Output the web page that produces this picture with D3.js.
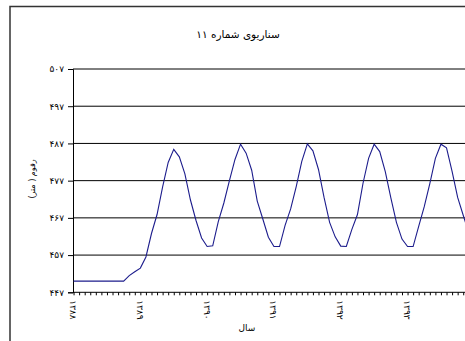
<!DOCTYPE html>
<html><head><meta charset="utf-8">
<script src="https://cdn.jsdelivr.net/npm/d3@7"></script>
<style>body{margin:0;background:#fff}svg{display:block}</style>
</head><body><svg id="c" width="465" height="341"></svg>
<script>
const chartTitle = "سناریوی شماره ۱۱";
const yTitle = "رقوم ( متر)";
const xTitle = "سال";
const yearLabels = ["۱۳۸۸","۱۳۸۹","۱۳۹۰","۱۳۹۱","۱۳۹۲","۱۳۹۳"];
const yTickValues = [447,457,467,477,487,497,507];
const yTickLabels = ["۴۴۷","۴۵۷","۴۶۷","۴۷۷","۴۸۷","۴۹۷","۵۰۷"];
const months = d3.range(0, 72);
const levels = [450,450,450,450,450,450,450,450,450,450,
  451.5,452.5,453.5,456.5,462.8,467.9,475.3,481.9,485.4,483.4,478.8,471.8,466.3,461.6,
  459.3,459.5,466,471,477,482.7,486.8,484.4,479.8,471.5,466.7,461.8,
  459.3,459.3,465,469.4,475.4,482.2,486.9,485,480,472.5,465.8,461.9,
  459.4,459.3,463.9,467.9,476.3,483,486.8,484.8,479.4,472.4,465.8,461.3,
  459.3,459.3,464.7,470,476.2,483,486.8,485.8,479.5,472.5,467.7,463];

const svg = d3.select("#c");
const font = "'DejaVu Sans', sans-serif";

svg.append("rect").attr("x",10).attr("y",6.5).attr("width",520).attr("height",400)
  .attr("fill","none").attr("stroke","#333").attr("stroke-width",1.5);

const x = d3.scaleLinear().domain([-0.1, 70.5]).range([73, 466]);
const y = d3.scaleLinear().domain([447, 507]).range([292.3, 69]);

// gridlines
svg.append("g").selectAll("line").data(yTickValues.slice(1)).join("line")
  .attr("x1",73).attr("x2",470)
  .attr("y1",d=>y(d)).attr("y2",d=>y(d))
  .attr("stroke","#000").attr("stroke-width",1);

// y axis
const ya = svg.append("g").attr("transform","translate(73,0)")
  .call(d3.axisLeft(y).tickValues(yTickValues).tickFormat((d,i)=>yTickLabels[i]).tickSize(5).tickPadding(4));
ya.select(".domain").attr("stroke","#000");
ya.selectAll("text").attr("font-family",font).attr("font-size",9).attr("fill","#000");

// x axis
const xa = svg.append("g").attr("transform",`translate(0,${y(447)})`)
  .call(d3.axisBottom(x).tickValues(months.slice(0,71)).tickSize(3)
    .tickFormat(d => d % 12 === 0 ? yearLabels[d/12] : ""));
xa.select(".domain").attr("stroke","#000").attr("d","M73,0H470");
xa.selectAll("text").attr("font-family",font).attr("font-size",9).attr("fill","#000")
  .attr("letter-spacing",2.2)
  .attr("direction","ltr").attr("unicode-bidi","bidi-override")
  .attr("transform","rotate(90)").attr("text-anchor","start")
  .attr("x",8).attr("y",0).attr("dy","0.45em");

// line
svg.append("path").datum(levels)
  .attr("fill","none").attr("stroke","#1c1c8c").attr("stroke-width",1.1)
  .attr("d", d3.line().x((d,i)=>x(months[i])).y(d=>y(d)));

// titles
svg.append("text").attr("x",238).attr("y",38).attr("text-anchor","middle")
  .attr("direction","rtl")
  .attr("font-family",font).attr("font-size",10.5).text(chartTitle);
svg.append("text").attr("transform","translate(35,179) rotate(-90)").attr("text-anchor","middle")
  .attr("direction","rtl")
  .attr("font-family",font).attr("font-size",8).text(yTitle);
svg.append("text").attr("x",247).attr("y",331).attr("text-anchor","middle")
  .attr("direction","rtl")
  .attr("font-family",font).attr("font-size",9).text(xTitle);
</script></body></html>
